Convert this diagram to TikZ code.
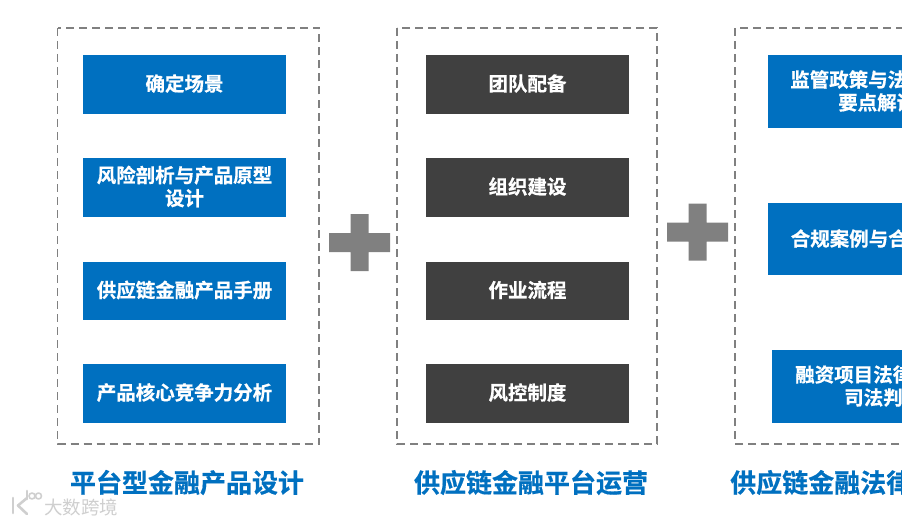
\documentclass[tikz,border=0pt]{standalone}
\usepackage{fontspec}
\setmainfont{Noto Sans CJK SC}[BoldFont={Noto Sans CJK SC Bold},BoldFeatures={FakeBold=0.6}]
\newfontfamily\wmfont{Noto Sans CJK SC}
\definecolor{bluebox}{HTML}{0070C0}
\definecolor{darkbox}{HTML}{404040}
\definecolor{plusgray}{HTML}{808080}
\definecolor{dashgray}{HTML}{808080}
\definecolor{wm}{HTML}{CFCFCF}
\tikzset{
  x=1pt,y=-1pt,
  panel/.style={draw=dashgray,line width=1.7pt,dash pattern=on 8pt off 5pt},
  cell/.style={inner sep=0pt,outer sep=0pt,text=white,font=\fontsize{19.5}{23}\selectfont\bfseries,align=center},
  lbl/.style={inner sep=0pt,text=white,font=\fontsize{19.5}{23}\selectfont\bfseries,anchor=west},
  heading/.style={inner sep=0pt,text=bluebox,font=\fontsize{26}{30}\selectfont\bfseries},
  plus/.style={fill=plusgray,draw=none},
  logo/.style={draw=wm,line width=2.6pt,line cap=round,line join=round},
}
\newcommand{\plusshape}[2]{% centre x, centre y
  \fill[plus] (#1-30.5,#2-9.5) -- (#1-9,#2-9.5) -- (#1-9,#2-28.5) -- (#1+9,#2-28.5) -- (#1+9,#2-9.5) -- (#1+30.5,#2-9.5) -- (#1+30.5,#2+9.5) -- (#1+9,#2+9.5) -- (#1+9,#2+28.5) -- (#1-9,#2+28.5) -- (#1-9,#2+9.5) -- (#1-30.5,#2+9.5) -- cycle;}
\begin{document}
\begin{tikzpicture}
\useasboundingbox (0,0) rectangle (902,524);
\fill[white] (0,0) rectangle (902,524);
% panels
\draw[panel] (57.5,28) rectangle (319,444);
\draw[panel] (397,28) rectangle (657,444);
\draw[panel] (925,444) -- (735,444) -- (735,28) -- (925,28);
% column 1
\foreach \n/\a/\b/\t in {a1/55/114/确定场景,a2/158/217/{风险剖析与产品原型\\设计},a3/262/320/供应链金融产品手册,a4/364/423/产品核心竞争力分析}{
  \fill[bluebox] (83,\a) rectangle (286,\b);
  \node[cell] (\n) at (184.5,{(\a+\b)/2-1}) {\t};
}
% column 2
\foreach \n/\a/\b/\t in {b1/55/114/团队配备,b2/158/217/组织建设,b3/262/320/作业流程,b4/364/423/风控制度}{
  \fill[darkbox] (426,\a) rectangle (629,\b);
  \node[cell] (\n) at (527.5,{(\a+\b)/2-1}) {\t};
}
% column 3
\fill[bluebox] (768,55) rectangle (925,128);
\fill[bluebox] (768,203) rectangle (925,275);
\fill[bluebox] (772,350) rectangle (925,423);
\node[lbl] (c1a) at (790,79.5) {监管政策与法};
\node[lbl] (c1b) at (838,102.5) {要点解读};
\node[lbl] (c2) at (790.5,238.5) {合规案例与合};
\node[lbl] (c3a) at (795,374.5) {融资项目法律};
\node[lbl] (c3b) at (844,397.5) {司法判};
% plus signs
\plusshape{359.5}{242.5}
\plusshape{697.5}{232}
% headings
\node[heading] (h1) at (187,482.5) {平台型金融产品设计};
\node[heading] (h2) at (531,482.5) {供应链金融平台运营};
\node[heading,anchor=west] (h3) at (730,482.5) {供应链金融法律};
% watermark
\node[inner sep=0pt,text=wm,font=\wmfont\fontsize{18.5}{20}\selectfont,anchor=west] (w1) at (44,507) {大数跨境};
\draw[logo] (13,498) -- (13,513);
\draw[logo] (27,498) -- (18,505.5) -- (27,514);
\draw[logo] (27,491) -- (27,499);
\draw[logo,line width=1.6pt] (32,496) circle (3);
\draw[logo,line width=1.6pt] (38.5,496) circle (3);
\end{tikzpicture}
\end{document}
